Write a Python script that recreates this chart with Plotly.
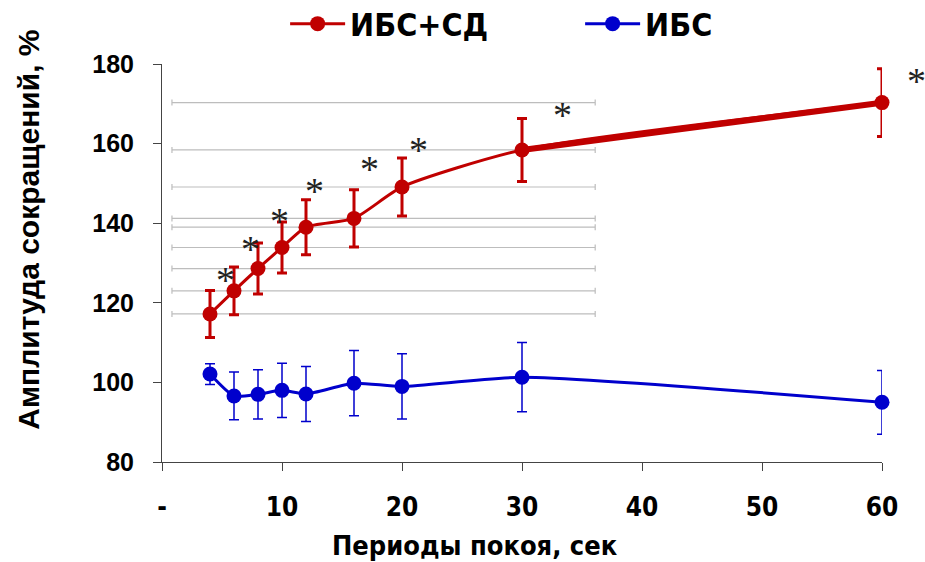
import plotly.graph_objects as go

# Data
periods = [4, 6, 8, 10, 12, 16, 20, 30, 60]
ibs_sd = [117.2, 123.0, 128.6, 133.9, 139.0, 141.2, 149.1, 158.4, 170.3]
ibs_sd_err = [5.9, 6.0, 6.4, 6.4, 6.9, 7.2, 7.3, 7.9, 8.5]
ibs = [102.1, 96.6, 97.0, 98.0, 97.1, 99.8, 99.0, 101.3, 95.0]
ibs_err = [2.6, 6.0, 6.2, 6.8, 6.9, 8.2, 8.2, 8.7, 8.0]

# stray horizontal bars in the original image (span in x units)
stray_left = 0.83
stray_right = 36.1

star_x = [5.3, 7.4, 9.8, 12.7, 17.3, 21.4, 33.4, 62.9]
star_y = [126.5, 134.2, 141.2, 148.8, 154.4, 159.1, 167.9, 176.4]

xtick_vals = [0, 10, 20, 30, 40, 50, 60]
xtick_text = ["-", "10", "20", "30", "40", "50", "60"]
ytick_vals = [80, 100, 120, 140, 160, 180]
x_range = [0, 60]
y_range = [80, 180]

RED = "#C00000"
BLUE = "#0000CC"
GRAY = "#BDBDBD"
NARROW = "Liberation Sans Narrow, DejaVu Sans Condensed, sans-serif"

fig = go.Figure()

# gray stray bars
fig.add_trace(go.Scatter(
    x=[(stray_left + stray_right) / 2] * len(ibs_sd), y=ibs_sd, mode="markers",
    marker=dict(size=1, color="rgba(0,0,0,0)"),
    error_x=dict(type="data", symmetric=True,
                 array=[(stray_right - stray_left) / 2] * len(ibs_sd),
                 color=GRAY, thickness=1.2, width=3),
    showlegend=False, hoverinfo="skip"))

# thick last segment of red line
fig.add_trace(go.Scatter(
    x=periods[-2:], y=ibs_sd[-2:], mode="lines", cliponaxis=False,
    line=dict(color=RED, width=6), showlegend=False, hoverinfo="skip"))

fig.add_trace(go.Scatter(
    x=periods, y=ibs_sd, mode="lines+markers", name="ИБС+СД", cliponaxis=False,
    line=dict(color=RED, width=3, shape="spline", smoothing=0.6),
    marker=dict(color=RED, size=15),
    error_y=dict(type="data", array=ibs_sd_err, color=RED, thickness=3, width=5)))

fig.add_trace(go.Scatter(
    x=periods, y=ibs, mode="lines+markers", name="ИБС", cliponaxis=False,
    line=dict(color=BLUE, width=3, shape="spline", smoothing=0.6),
    marker=dict(color=BLUE, size=15),
    error_y=dict(type="data", array=ibs_err, color=BLUE, thickness=1.5, width=5)))

# significance stars (paper coords so the one beyond the axis end still shows)
for sx, sy in zip(star_x, star_y):
    px = (sx - x_range[0]) / (x_range[1] - x_range[0])
    py = (sy - y_range[0]) / (y_range[1] - y_range[0])
    fig.add_annotation(xref="paper", yref="paper", x=px, y=py, text="*", showarrow=False,
                       font=dict(family="Liberation Serif", size=38, color="#222"),
                       xanchor="center", yanchor="middle", yshift=-3)

fig.add_annotation(xref="paper", yref="paper", x=0.435, y=-0.165,
                   text="Периоды покоя, сек", showarrow=False,
                   xanchor="center", yanchor="top",
                   font=dict(family=NARROW, size=27, color="black", weight="bold"))

fig.add_annotation(xref="paper", yref="paper", x=-0.185, y=0.583,
                   text="Амплитуда сокращений, %", showarrow=False, textangle=-90,
                   xanchor="center", yanchor="middle",
                   font=dict(family="Liberation Sans", size=30, color="black", weight="bold"))

fig.update_layout(
    width=925, height=562,
    margin=dict(l=162, r=43, t=64, b=100, autoexpand=False),
    plot_bgcolor="white", paper_bgcolor="white",
    showlegend=True,
    legend=dict(orientation="h", x=0.171, xanchor="left", y=1.17, yanchor="top",
                font=dict(family=NARROW, size=32, color="black", weight="bold"),
                tracegroupgap=0, itemwidth=55, entrywidth=225),
    xaxis=dict(range=x_range, tickvals=xtick_vals, ticktext=xtick_text,
               showgrid=False, zeroline=False, showline=True, linecolor="#444", linewidth=1,
               ticks="outside", ticklen=8, tickcolor="#444",
               ticklabelstandoff=14,
               tickfont=dict(family=NARROW, size=26, color="black", weight="bold")),
    yaxis=dict(range=y_range, tickvals=ytick_vals,
               showgrid=False, zeroline=False, showline=True, linecolor="#444", linewidth=1,
               ticks="outside", ticklen=8, tickcolor="#444",
               ticklabelstandoff=14,
               tickfont=dict(family="Liberation Sans", size=25, color="black", weight="bold")),
)

fig.write_html("out.html", config={"displayModeBar": False},
               post_script="document.body.style.margin='0';")
